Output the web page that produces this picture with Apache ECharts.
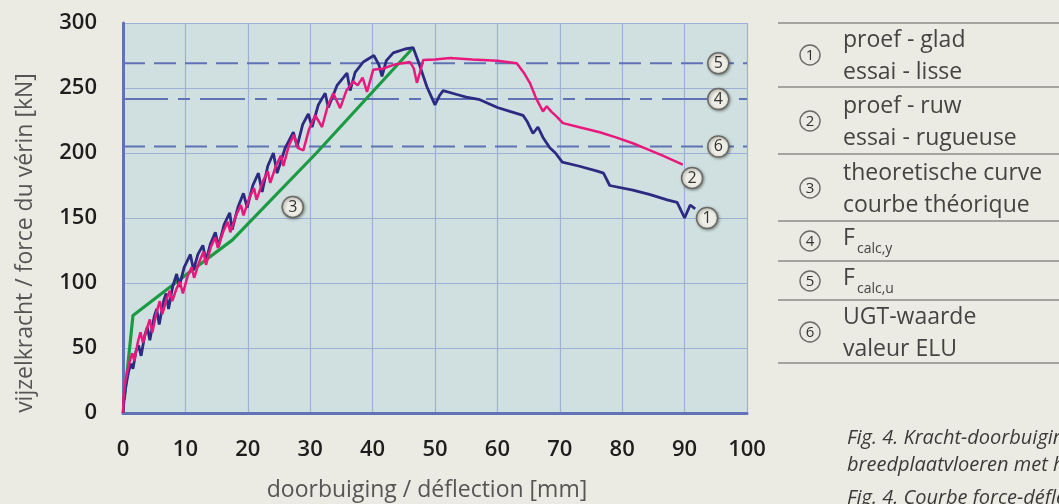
<!DOCTYPE html>
<html><head><meta charset="utf-8">
<script src="https://cdn.jsdelivr.net/npm/echarts@6/dist/echarts.min.js"></script>
<style>html,body{margin:0;padding:0;background:#ecebe3;}#c{width:1059px;height:504px;}</style>
</head><body><div id="c"></div>
<script>
// ---- data ----
const xTicks = [0,10,20,30,40,50,60,70,80,90,100];
const yTicks = [0,50,100,150,200,250,300];
const proefGlad = [
[0,0],[0.2,12],[0.5,22],[0.9,32],[1.3,38],[1.6,34],[2.1,48],[2.5,52],[2.9,44],[3.5,60],[3.9,66],[4.3,56],[5,74],[5.4,80],[5.8,68],[6.5,86],[6.9,92],[7.3,80],[8.0,98],[8.6,107],[9.0,97],[9.8,112],[10.8,122],[11.3,110],[12.0,122],[12.8,129],[13.3,117],[14.0,130],[14.8,139],[15.3,128],[16.2,145],[17.1,154],[17.5,141],[18.4,158],[19.3,169],[19.9,158],[20.8,175],[21.7,184.5],[22.3,170],[23.2,190],[24.1,200],[24.7,184.5],[26,204],[27.3,216],[27.9,205],[28.8,222],[29.7,230],[30.3,220],[31.3,237],[32.4,246],[32.9,235],[34.3,252],[35.9,261.5],[36.4,248],[37.2,262],[38.5,270],[40.2,275],[41.0,268],[41.5,259],[42.2,271],[43.3,277],[45.2,280],[46.5,281],[47.5,268],[48.7,251],[50,237],[50.7,244],[51.3,248],[53.5,245],[55,243],[57.2,241],[60,235],[62,232],[64.1,229],[64.8,224],[65.7,215],[66.5,220],[67.3,212],[68.4,204],[69.3,200],[70.4,193],[73,190],[76,186],[77,184.5],[78,175],[81.7,171.5],[84.5,168],[87.2,164],[88.8,162],[90,150],[90.9,160],[91.7,157]
];
const proefRuw = [
[0,0],[0.1,12],[0.3,22],[0.7,32],[1.2,42],[1.5,46],[1.8,40],[2.4,55],[2.8,62],[3.2,54],[3.9,66],[4.3,72],[4.7,62],[5.4,78],[5.9,86],[6.3,76],[7,88],[7.5,94],[7.9,86],[8.6,96],[9.1,101],[9.6,92],[10.4,106],[11,112],[11.4,104],[12.2,116],[12.9,124],[13.3,114],[14.1,128],[14.8,135],[15.2,127],[16.1,140],[16.8,147],[17.2,139],[18.2,153],[18.9,160],[19.3,152],[20.3,166],[21,173],[21.4,164],[22.4,178],[23.2,186],[23.6,177],[24.5,190],[25.3,198],[25.7,190],[26.6,206],[27.4,214],[28,204],[28.9,202],[29.8,218],[30.8,229],[31.9,220],[32.8,236],[33.7,246],[34.8,234.5],[35.8,248],[36.9,255],[37.6,252],[38.4,258],[39.1,247],[40.1,264],[41.7,265],[43.5,268],[46,270],[46.6,265],[47.1,254],[47.6,262],[48.1,271.5],[50,272],[52.4,273],[56,272],[60,271],[63.1,269],[64.2,262],[65.2,254],[66.2,242],[67.3,232],[67.9,236],[68.6,232],[69.5,228],[70.5,223],[73,220],[76.4,216],[79,212],[81.7,207.5],[84,203],[86.5,198],[89.7,191]
];
const theorie = [[0.2,10],[1.6,75],[10,106],[17.5,133],[31,200],[46.3,280]];
const fCalcU = 269;   // (5)
const fCalcY = 241.5; // (4)
const ugtWaarde = 205; // (6)
const markers = [[95.4,269,'5'],[95.4,241.5,'4'],[95.4,205,'6'],[91.2,180.8,'2'],[93.6,150,'1'],[27.2,158.5,'3']];
const legendRows = [
  {n:'1', lines:['proef - glad','essai - lisse']},
  {n:'2', lines:['proef - ruw','essai - rugueuse']},
  {n:'3', lines:['theoretische curve','courbe théorique']},
  {n:'4', lines:['F'], sub:'calc,y'},
  {n:'5', lines:['F'], sub:'calc,u'},
  {n:'6', lines:['UGT-waarde','valeur ELU']}
];
const captionLines = ['Fig. 4. Kracht-doorbuigingscurven van','breedplaatvloeren met holle elementen','Fig. 4. Courbe force-déflection des'];
const xName = 'doorbuiging / déflection [mm]';
const yName = 'vijzelkracht / force du vérin [kN]';

// ---- chart ----
const FONT = '"Open Sans", "Noto Sans", sans-serif';
const refColor = '#5f72b6';
function hline(v, dash){
  return {type:'line', data:[[0,v],[100,v]], symbol:'none', silent:true,
    lineStyle:{color:refColor, width:2, type:dash}, z:2};
}
const graphic = [];
const rules = [23,87,154,221,261,300,363];
rules.forEach(y=>graphic.push({type:'line', shape:{x1:778,y1:y,x2:1059,y2:y}, style:{stroke:'#8d8d88', lineWidth:1.5}}));
const rowCenters = [55,121,188,241,281,332];
legendRows.forEach((r,i)=>{
  const cy = rowCenters[i];
  graphic.push({type:'circle', shape:{cx:810, cy:cy, r:10}, style:{fill:'none', stroke:'#6a6a66', lineWidth:1.4}});
  graphic.push({type:'text', x:810, y:cy+1, style:{text:r.n, font:'15px '+FONT, fill:'#333', align:'center', verticalAlign:'middle'}});
  if(r.lines.length===2){
    graphic.push({type:'text', x:843, y:cy-15, style:{text:r.lines[0], font:'23px '+FONT, fill:'#444442', verticalAlign:'middle'}});
    graphic.push({type:'text', x:843, y:cy+17, style:{text:r.lines[1], font:'23px '+FONT, fill:'#444442', verticalAlign:'middle'}});
  } else {
    graphic.push({type:'text', x:843, y:cy-3, style:{text:r.lines[0], font:'23px '+FONT, fill:'#444442', verticalAlign:'middle'}});
    graphic.push({type:'text', x:857, y:cy+8, style:{text:r.sub, font:'14px '+FONT, fill:'#444442', verticalAlign:'middle'}});
  }
});
captionLines.forEach((t,i)=>{
  graphic.push({type:'text', x:847, y:[438,465,498][i], style:{text:t, font:'italic 20px '+FONT, fill:'#3a3a38', verticalAlign:'middle'}});
});
graphic.push({type:'text', x:427, y:490, style:{text:xName, font:'23px '+FONT, fill:'#555', align:'center', verticalAlign:'middle'}});
graphic.push({type:'text', x:25, y:243, rotation:Math.PI/2, style:{text:yName, font:'23px '+FONT, fill:'#555', align:'center', verticalAlign:'middle'}});

const chart = echarts.init(document.getElementById('c'));
chart.setOption({
  backgroundColor:'#ecebe3',
  animation:false,
  grid:{left:123, top:23, right:312, bottom:91, show:true, backgroundColor:'#d0e0e0', borderWidth:0},
  xAxis:{type:'value', min:0, max:100, interval:10,
    axisLine:{show:true, onZero:false, lineStyle:{color:'#6073b6', width:3}},
    axisTick:{show:false},
    axisLabel:{margin:26, fontFamily:FONT, fontSize:22, fontWeight:600, color:'#1e1e1e'},
    splitLine:{show:true, lineStyle:{color:'#9fb0d8', width:1.2}}
  },
  yAxis:{type:'value', min:0, max:300, interval:50,
    axisLine:{show:true, lineStyle:{color:'#6073b6', width:3}},
    axisTick:{show:false},
    axisLabel:{margin:26, fontFamily:FONT, fontSize:22, fontWeight:600, color:'#1e1e1e'},
    splitLine:{show:true, lineStyle:{color:'#9fb0d8', width:1.2}}
  },
  graphic: graphic,
  series:[
    hline(fCalcU,[22,9]),
    hline(fCalcY,[45,10,12,10]),
    hline(ugtWaarde,[22,9]),
    {type:'line', data:theorie, symbol:'none', lineStyle:{color:'#1d9a44', width:3.2}, z:3},
    {type:'line', data:proefGlad, symbol:'none', lineStyle:{color:'#2d2a82', width:2.8}, z:4},
    {type:'line', data:proefRuw, symbol:'none', lineStyle:{color:'#e8197c', width:2.5}, z:5},
    {type:'scatter', data:markers, symbol:'circle', symbolSize:21, z:10,
      itemStyle:{color:'#eeeee6', borderColor:'#6a6a66', borderWidth:1.5, shadowBlur:3, shadowColor:'rgba(0,0,0,0.35)', shadowOffsetX:1, shadowOffsetY:1, opacity:1},
      label:{show:true, position:'inside', formatter:p=>p.value[2], fontFamily:FONT, fontSize:16, color:'#333'}}
  ]
});
</script></body></html>
